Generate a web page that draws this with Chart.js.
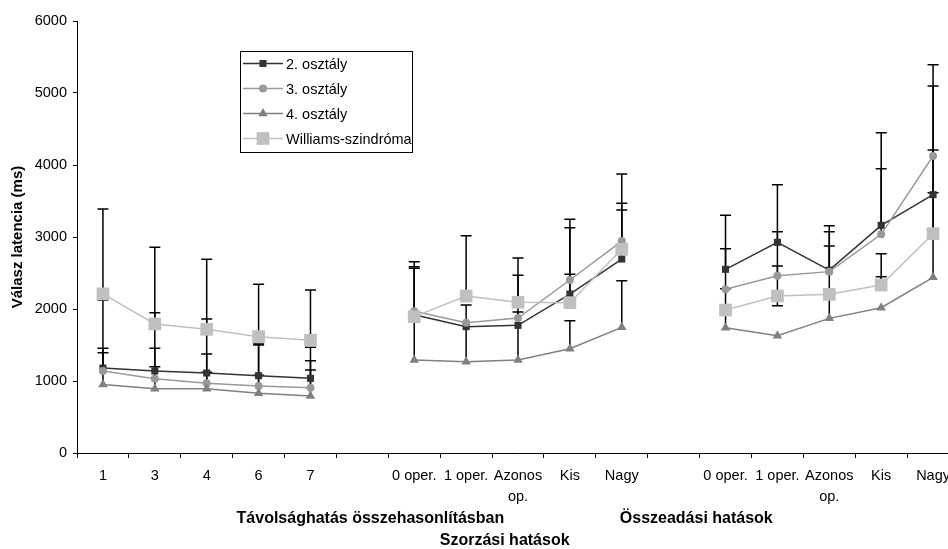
<!DOCTYPE html>
<html>
<head>
    <title>Válasz latencia</title>
    <script src="https://cdn.jsdelivr.net/npm/chart.js@4/dist/chart.umd.min.js"></script>
    <style>
        body { margin: 0; overflow: hidden; background: #fff; }
        #wrap { width: 990px; height: 549px; }
    </style>
</head>
<body>
    <div id="wrap"><canvas id="lineChart"></canvas></div>

    <script>
        // categories (empty ones separate the three groups)
        var labels = ['1', '3', '4', '6', '7', '',
            '0 oper.', '1 oper.', ['Azonos', 'op.'], 'Kis', 'Nagy', '',
            '0 oper.', '1 oper.', ['Azonos', 'op.'], 'Kis', 'Nagy'];

        var names = ['2. osztály', '3. osztály', '4. osztály', 'Williams-szindróma'];

        // mean latencies (ms)
        var grade2 = [1180, 1140, 1111, 1074, 1037, null, 1920, 1755, 1773, 2208, 2694, null, 2551, 2926, 2540, 3162, 3588];
        var grade3 = [1140, 1032, 968, 931, 907, null, 1970, 1810, 1875, 2403, 2944, null, 2273, 2463, 2519, 3037, 4125];
        var grade4 = [950, 893, 893, 829, 792, null, 1292, 1269, 1292, 1449, 1745, null, 1741, 1630, 1870, 2018, 2440];
        var williams = [2210, 1792, 1718, 1616, 1565, null, 1894, 2181, 2093, 2088, 2829, null, 1986, 2181, 2204, 2333, 3046];

        // error bar ends (ms), one or more per point
        var grade2Err = [2125, 1949, 1861, 1514, 1468, null, 2588, null, null, 3130, 3468, null, 3301, 3727, 3157, 4449, 5097];
        var grade3Err = [1454, 1454, 1375, 1500, 1282, null, 2657, null, 2468, 3245, 3875, null, 2838, 3074, 3074, 3949, 5393];
        var grade4Err = [1393, 1199, 1120, 1080, 1153, null, 2565, 2056, 1960, 1838, 2394, null, 2280, null, 2220, null, 3615];
        var williamsErr = [3390, 2856, 2690, 2343, 2264, null, null, 3019, 2708, 2481, 3375, null, null, [2046, 2597], 2875, [2449, 2768], 4208];

        var yTicks = [0, 1000, 2000, 3000, 4000, 5000, 6000];

        Chart.defaults.font.family = '"Liberation Sans", Arial, sans-serif';
        Chart.defaults.color = '#000';

        //Error bars, drawn under the markers

        const errorBars = {
            id: 'errorBars',
            beforeDatasetsDraw(chart) {
                const ctx = chart.ctx;
                const xs = chart.scales.x, ys = chart.scales.y;
                ctx.save();
                ctx.strokeStyle = '#000';
                ctx.lineWidth = 1.5;
                chart.data.datasets.forEach(function(ds) {
                    ds.errEnds.forEach(function(e, i) {
                        if (e == null || ds.data[i] == null) return;
                        const px = xs.getPixelForValue(i);
                        const py = ys.getPixelForValue(ds.data[i]);
                        [].concat(e).forEach(function(v) {
                            const ey = ys.getPixelForValue(v);
                            ctx.beginPath();
                            ctx.moveTo(px, py);
                            ctx.lineTo(px, ey);
                            ctx.moveTo(px - 5.5, ey);
                            ctx.lineTo(px + 5.5, ey);
                            ctx.stroke();
                        });
                    });
                });
                ctx.restore();
            }
        };

        //Legend box like the Excel one

        const legendBox = {
            id: 'legendBox',
            afterDraw(chart) {
                const ctx = chart.ctx;
                ctx.save();
                ctx.strokeStyle = '#000';
                ctx.lineWidth = 1;
                ctx.strokeRect(240.5, 51.5, 172, 101);
                chart.data.datasets.forEach(function(ds, i) {
                    const yy = 63.5 + i * 25;
                    ctx.strokeStyle = ds.borderColor;
                    ctx.lineWidth = ds.borderWidth;
                    ctx.beginPath();
                    ctx.moveTo(243, yy);
                    ctx.lineTo(283, yy);
                    ctx.stroke();
                    ctx.fillStyle = ds.pointBackgroundColor;
                    Chart.helpers.drawPoint(ctx, {pointStyle: ds.pointStyle, radius: ds.pointRadius, rotation: 0, borderWidth: 0}, 263, yy);
                    ctx.fillStyle = '#000';
                    ctx.font = '14.5px "Liberation Sans", Arial, sans-serif';
                    ctx.textBaseline = 'middle';
                    ctx.textAlign = 'left';
                    ctx.fillText(ds.label, 286, yy + 1);
                });
                ctx.restore();
            }
        };

        function series(label, data, err, color, style, radius, order) {
            return {
                label: label,
                data: data,
                errEnds: err,
                borderColor: color,
                backgroundColor: color,
                pointBackgroundColor: color,
                pointBorderWidth: 0,
                pointStyle: style,
                pointRadius: radius,
                borderWidth: 1.5,
                tension: 0,
                order: order
            };
        }

        var gap = ' '.repeat(26);
        var shift = ' '.repeat(6);

        new Chart('lineChart', {
            type: 'line',
            data: {
                labels: labels,
                datasets: [
                    series(names[0], grade2, grade2Err, '#333333', 'rect', 5, 4),
                    series(names[1], grade3, grade3Err, '#999999', 'circle', 4, 3),
                    series(names[2], grade4, grade4Err, '#808080', 'triangle', 5.5, 2),
                    series(names[3], williams, williamsErr, '#c0c0c0', 'rect', 9, 1)
                ]
            },
            options: {
                responsive: true,
                maintainAspectRatio: false,
                animation: false,
                layout: {padding: {top: 21, right: 31, bottom: 0, left: 0}},
                plugins: {
                    legend: {display: false},
                    tooltip: {enabled: false}
                },
                scales: {
                    x: {
                        type: 'category',
                        offset: true,
                        grid: {offset: true, drawOnChartArea: false, drawTicks: true, tickLength: 5, color: '#000'},
                        border: {color: '#000', width: 1},
                        ticks: {autoSkip: false, maxRotation: 0, padding: 7, font: {size: 14.5, lineHeight: 1.45}},
                        title: {
                            display: true,
                            text: ['Távolsághatás összehasonlításban' + gap + 'Összeadási hatások' + shift, 'Szorzási hatások' + shift],
                            font: {size: 16, weight: 'bold', lineHeight: 1.375},
                            padding: {top: 0, bottom: -3}
                        },
                        afterFit: function(s) { s.height = 96; s.paddingLeft = 0; s.paddingRight = 0; }
                    },
                    y: {
                        min: 0,
                        max: 6000,
                        afterBuildTicks: function(s) { s.ticks = yTicks.map(function(v) { return {value: v}; }); },
                        grid: {drawOnChartArea: false, drawTicks: true, tickLength: 4, color: '#000'},
                        border: {color: '#000', width: 1},
                        ticks: {padding: 6, font: {size: 14.5}, callback: function(v) { return String(v); }},
                        title: {
                            display: true,
                            text: 'Válasz latencia (ms)',
                            font: {size: 15, weight: 'bold', lineHeight: 1.2},
                            padding: {top: 9, bottom: 0}
                        },
                        afterFit: function(s) { s.width = 77; s.paddingTop = 0; s.paddingBottom = 0; }
                    }
                }
            },
            plugins: [errorBars, legendBox]
        });
    </script>
</body>
</html>
